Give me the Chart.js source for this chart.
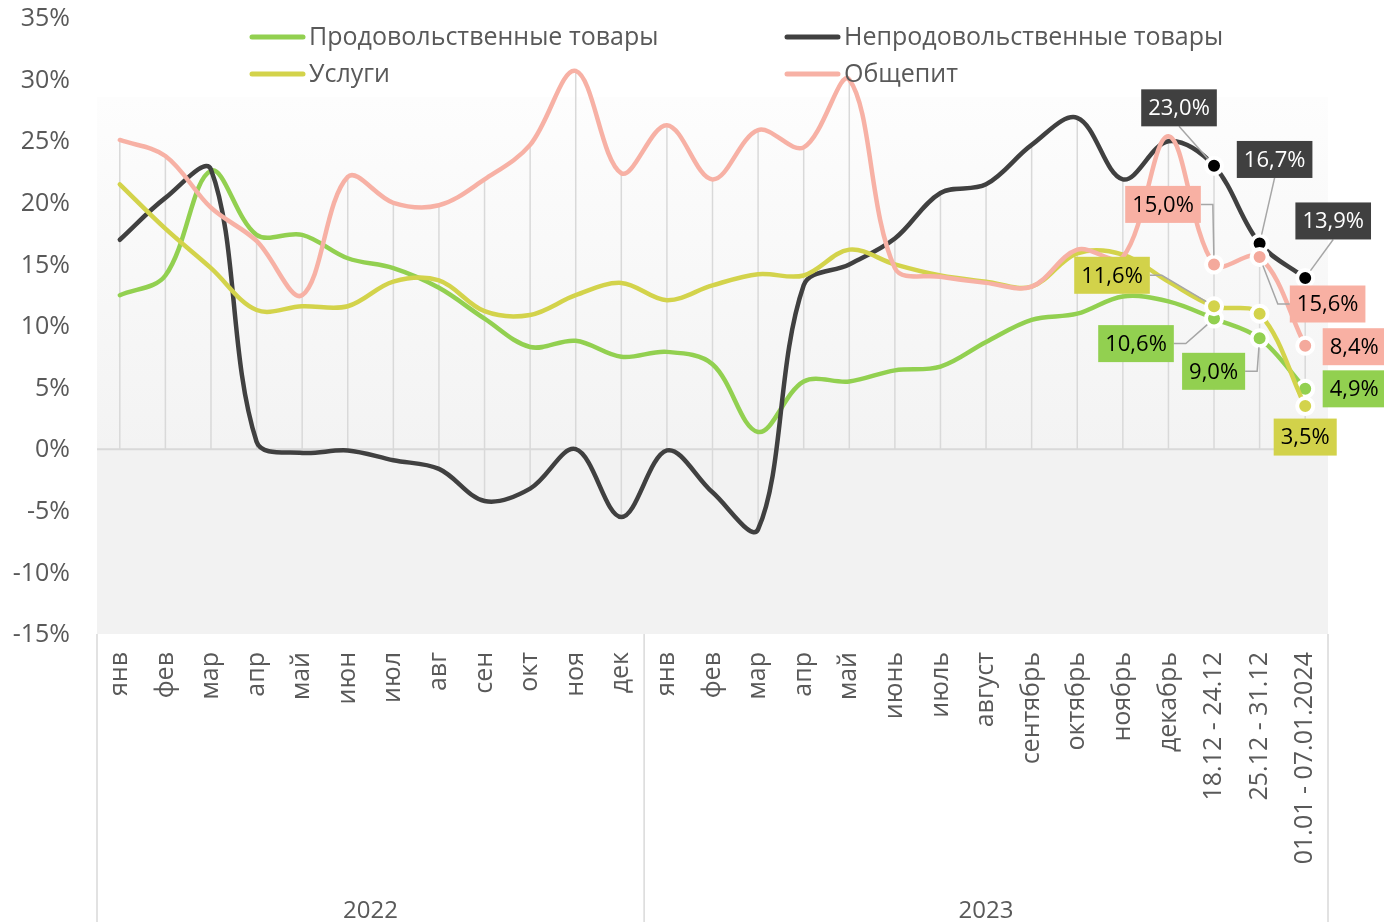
<!DOCTYPE html>
<html lang="ru">
<head>
<meta charset="UTF-8">
<title>Инфляция по группам</title>
<script src="https://cdn.jsdelivr.net/npm/chart.js@4"></script>
<style>
    html, body { margin: 0; padding: 0; background: #fff; }
    canvas { display: block; }
</style>
</head>
<body>
<canvas id="chart" width="1384" height="922"></canvas>
<script>
    // категории: месяцы 2022, 2023 и три последние недели
    const categories = ['янв', 'фев', 'мар', 'апр', 'май', 'июн', 'июл', 'авг', 'сен', 'окт', 'ноя', 'дек',
        'янв', 'фев', 'мар', 'апр', 'май', 'июнь', 'июль', 'август', 'сентябрь', 'октябрь', 'ноябрь', 'декабрь',
        '18.12 - 24.12', '25.12 - 31.12', '01.01 - 07.01.2024'];
    const years = ['2022', '2023'];
    const monthsPerYear = [12, 15];

    const food = [12.5, 14.1, 22.6, 17.4, 17.4, 15.5, 14.7, 13.1, 10.6, 8.3, 8.8, 7.5,
        7.9, 6.9, 1.4, 5.5, 5.5, 6.4, 6.7, 8.7, 10.5, 11.0, 12.4, 12.0, 10.6, 9.0, 4.9];
    const nonFood = [17.0, 20.4, 22.7, 0.6, -0.3, -0.1, -0.9, -1.6, -4.2, -3.2, 0.0, -5.5,
        -0.1, -3.5, -6.5, 13.3, 15.0, 17.1, 20.8, 21.5, 24.7, 26.9, 21.9, 25.0, 23.0, 16.7, 13.9];
    const services = [21.5, 17.9, 14.7, 11.3, 11.6, 11.6, 13.6, 13.7, 11.2, 10.9, 12.5, 13.5,
        12.1, 13.3, 14.2, 14.1, 16.2, 15.0, 14.1, 13.6, 13.2, 15.9, 15.8, 13.6, 11.6, 11.0, 3.5];
    const catering = [25.1, 23.8, 19.6, 16.9, 12.5, 22.1, 20.0, 19.8, 21.9, 24.7, 30.7, 22.4,
        26.3, 21.9, 25.9, 24.5, 30.0, 14.7, 14.0, 13.5, 13.2, 16.2, 15.6, 25.4, 15.0, 15.6, 8.4];

    const yMin = -15, yMax = 35, yStep = 5;
    const firstMarked = 24; // с этой точки рисуются маркеры и подписи

    const FONT = "'Open Sans', 'Noto Sans', sans-serif";
    const TEXT = '#595959';
    const GRID = '#d9d9d9';

    const series = [
        { label: 'Продовольственные товары', data: food, color: '#92d050', marker: '#92d050', order: 4 },
        { label: 'Непродовольственные товары', data: nonFood, color: '#404040', marker: '#000000', order: 3 },
        { label: 'Услуги', data: services, color: '#d3d34b', marker: '#d3d34b', order: 2 },
        { label: 'Общепит', data: catering, color: '#f7b1a5', marker: '#f4a99c', order: 1 }
    ];

    // подписи значений: ряд, индекс точки, смещение центра подписи от точки
    const labelSpots = [
        { s: 1, i: 24, dx: -35, dy: -58, leader: true },
        { s: 1, i: 25, dx: 15, dy: -84, leader: true },
        { s: 1, i: 26, dx: 28, dy: -57, leader: true },
        { s: 3, i: 24, dx: -51, dy: -60, leader: true },
        { s: 3, i: 25, dx: 68, dy: 47, leader: true },
        { s: 3, i: 26, dx: 49, dy: 1, leader: false },
        { s: 2, i: 24, dx: -102, dy: -31, leader: true },
        { s: 0, i: 24, dx: -78, dy: 25, leader: true },
        { s: 0, i: 25, dx: -46, dy: 33, leader: true },
        { s: 0, i: 26, dx: 49, dy: 0, leader: false },
        { s: 2, i: 26, dx: 0, dy: 31, leader: false }
    ];
    const labelBg = ['#92d050', '#404040', '#d2d24a', '#f8b0a3'];
    const labelFg = ['#000', '#fff', '#000', '#000'];

    const fmt = v => v.toFixed(1).replace('.', ',') + '%';

    const backdrop = {
        id: 'backdrop',
        beforeDatasetsDraw(chart) {
            const { ctx, chartArea: a, scales: { x, y } } = chart;
            const y0 = y.getPixelForValue(0);
            const gTop = a.top + 79;
            ctx.save();
            const g = ctx.createLinearGradient(0, gTop, 0, y0);
            g.addColorStop(0, '#fdfdfd');
            g.addColorStop(1, '#f3f3f3');
            ctx.fillStyle = g;
            ctx.fillRect(a.left, gTop, a.right - a.left, y0 - gTop);
            ctx.fillStyle = '#f2f2f2';
            ctx.fillRect(a.left, y0, a.right - a.left, a.bottom - y0);

            // вертикальные линии проекции
            ctx.strokeStyle = GRID;
            ctx.lineWidth = 1.5;
            categories.forEach((c, i) => {
                const vals = series.map(s => s.data[i]);
                const hi = Math.max(0, ...vals), lo = Math.min(0, ...vals);
                const px = x.getPixelForValue(i);
                ctx.beginPath();
                ctx.moveTo(px, y.getPixelForValue(hi));
                ctx.lineTo(px, y.getPixelForValue(lo));
                ctx.stroke();
            });
            // нулевая линия
            ctx.lineWidth = 2;
            ctx.beginPath();
            ctx.moveTo(a.left, y0);
            ctx.lineTo(a.right, y0);
            ctx.stroke();

            // подписи оси Y
            ctx.fillStyle = TEXT;
            ctx.font = '25px ' + FONT;
            ctx.textAlign = 'right';
            ctx.textBaseline = 'middle';
            y.ticks.forEach(t => ctx.fillText(t.value + '%', a.left - 27, y.getPixelForValue(t.value) + 1));
            ctx.restore();
        }
    };

    const valueLabels = {
        id: 'valueLabels',
        afterDatasetsDraw(chart) {
            const { ctx, scales: { x, y } } = chart;
            ctx.save();
            ctx.font = '22px ' + FONT;
            ctx.textAlign = 'center';
            ctx.textBaseline = 'middle';
            labelSpots.forEach(l => {
                const v = series[l.s].data[l.i];
                const px = x.getPixelForValue(l.i), py = y.getPixelForValue(v);
                const txt = fmt(v);
                const w = ctx.measureText(txt).width + 14, h = 37;
                const cx = px + l.dx, cy = py + l.dy;
                const left = cx - w / 2, right = cx + w / 2;
                if (l.leader) {
                    ctx.strokeStyle = '#a6a6a6';
                    ctx.lineWidth = 1.5;
                    ctx.beginPath();
                    let sx, sy;
                    if (px > left && px < right) {
                        sx = cx; sy = cy + (py > cy ? h / 2 : -h / 2);
                        ctx.moveTo(sx, sy);
                    } else {
                        const dir = px > right ? 1 : -1;
                        sx = dir > 0 ? right : left; sy = cy;
                        ctx.moveTo(sx, sy);
                        sx += dir * 12;
                        ctx.lineTo(sx, sy);
                    }
                    const d = Math.hypot(px - sx, py - sy);
                    ctx.lineTo(px - (px - sx) / d * 9, py - (py - sy) / d * 9);
                    ctx.stroke();
                }
                ctx.fillStyle = labelBg[l.s];
                ctx.fillRect(left, cy - h / 2, w, h);
                ctx.fillStyle = labelFg[l.s];
                ctx.fillText(txt, cx, cy + 1);
            });
            ctx.restore();
        }
    };

    const decor = {
        id: 'decor',
        afterDraw(chart) {
            const { ctx, chartArea: a, scales: { x }, height } = chart;
            ctx.save();
            // разделители годов под осью
            const edges = [a.left];
            let n = 0;
            monthsPerYear.forEach((m, k) => {
                n += m;
                edges.push(k === monthsPerYear.length - 1 ? a.right
                    : (x.getPixelForValue(n - 1) + x.getPixelForValue(n)) / 2);
            });
            ctx.strokeStyle = GRID;
            ctx.lineWidth = 1.5;
            edges.forEach(e => {
                ctx.beginPath();
                ctx.moveTo(e, a.bottom);
                ctx.lineTo(e, height);
                ctx.stroke();
            });
            ctx.fillStyle = TEXT;
            ctx.font = '24px ' + FONT;
            ctx.textAlign = 'center';
            ctx.textBaseline = 'middle';
            years.forEach((yr, k) => ctx.fillText(yr, (edges[k] + edges[k + 1]) / 2, height - 11));

            // легенда в две колонки
            ctx.font = '25px ' + FONT;
            ctx.textAlign = 'left';
            ctx.lineCap = 'round';
            const cols = [250, 785], rows = [37, 74];
            series.forEach((s, k) => {
                const lx = cols[k % 2], ly = rows[Math.floor(k / 2)];
                ctx.strokeStyle = s.color;
                ctx.lineWidth = 5;
                ctx.beginPath();
                ctx.moveTo(lx + 2, ly);
                ctx.lineTo(lx + 53, ly);
                ctx.stroke();
                ctx.fillStyle = TEXT;
                ctx.fillText(s.label, lx + 59, ly + 1);
            });
            ctx.restore();
        }
    };

    new Chart(document.getElementById('chart'), {
        type: 'line',
        data: {
            labels: categories,
            datasets: series.map(s => ({
                label: s.label,
                data: s.data,
                order: s.order,
                borderColor: s.color,
                backgroundColor: s.marker,
                borderWidth: 4.5,
                tension: 0.35,
                borderCapStyle: 'round',
                borderJoinStyle: 'round',
                pointRadius: s.data.map((v, i) => i >= firstMarked ? 8 : 0),
                pointBackgroundColor: s.marker,
                pointBorderColor: '#ffffff',
                pointBorderWidth: 4
            }))
        },
        options: {
            responsive: false,
            animation: false,
            layout: { padding: { top: 18, right: 56, bottom: 0, left: 0 } },
            plugins: { legend: { display: false }, tooltip: { enabled: false } },
            scales: {
                x: {
                    offset: true,
                    grid: { display: false, drawTicks: false },
                    border: { display: false },
                    ticks: {
                        autoSkip: false, minRotation: 90, maxRotation: 90, padding: 18,
                        color: TEXT, font: { family: FONT, size: 25 }
                    },
                    afterFit: s => { s.height = 288; }
                },
                y: {
                    min: yMin, max: yMax,
                    grid: { display: false, drawTicks: false },
                    border: { display: false },
                    ticks: { display: false, stepSize: yStep },
                    afterFit: s => { s.width = 97; }
                }
            }
        },
        plugins: [backdrop, valueLabels, decor]
    });
</script>
</body>
</html>
